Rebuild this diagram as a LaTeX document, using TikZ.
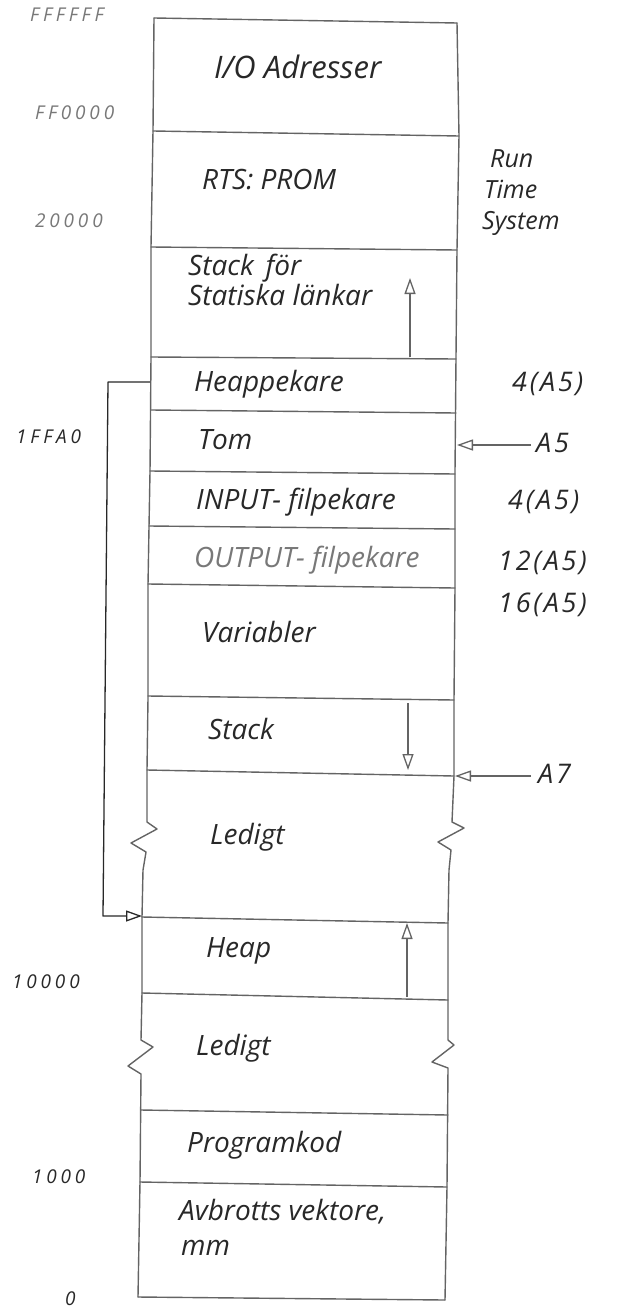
\documentclass[tikz,border=0pt]{standalone}
\usepackage{fontspec}
\setmainfont{Open Sans}
\usetikzlibrary{arrows.meta}
\definecolor{linec}{RGB}{100,100,100}
\definecolor{ink}{RGB}{40,40,40}
\definecolor{pale}{RGB}{120,120,120}
\begin{document}
\begin{tikzpicture}[x=1pt,y=-1pt,
  col/.style={draw=linec, line width=1.4pt, line join=round, line cap=round},
  txt/.style={anchor=west, inner sep=0pt, text=ink, text height=14pt, text depth=0pt,
    font=\itshape\fontsize{28}{32}\selectfont},
  rlab/.style={anchor=west, inner sep=0pt, text=ink, text height=14pt, text depth=0pt,
    font=\itshape\fontsize{27}{30}\selectfont\addfontfeature{LetterSpace=10}},
  llab/.style={anchor=west, inner sep=0pt, text=pale, text height=10pt, text depth=0pt,
    font=\itshape\fontsize{19}{21}\selectfont\addfontfeature{LetterSpace=20}},
  arr/.style={draw=linec, line width=1.3pt, -{Triangle[open,length=16pt,width=11pt]}},
  brk/.style={draw=ink, line width=1.3pt, line join=round, -{Triangle[open,length=16pt,width=11pt]}}
]
\useasboundingbox (0,0) rectangle (620,1311);

% column outline with break marks
\draw[col] (154,18) -- (153,131) -- (151,247) -- (151,357) -- (150,472) -- (149,527)
  -- (148,585) -- (148,698) -- (147,770) -- (147,822) -- (157,829) -- (131,843)
  -- (146,852) -- (143,870) -- (142,917) -- (142,993) -- (141,1040) -- (153,1047)
  -- (128,1066) -- (141,1074) -- (140,1182) -- (138,1297);
\draw[col] (457,23) -- (459,136) -- (457,250) -- (456,357) -- (455,472) -- (455,588)
  -- (454,700) -- (454,776) -- (452,822) -- (464,828) -- (438,842) -- (451,850)
  -- (449,870) -- (448,923) -- (448,1000) -- (448,1040) -- (454,1045) -- (432,1062)
  -- (448,1068) -- (447,1187) -- (445,1300);

% divisions
\draw[col] (154,18) -- (457,23);
\draw[col] (153,131) -- (459,136);
\draw[col] (151,247) -- (457,250);
\draw[col] (151,357) -- (456,359);
\draw[col] (151,410) -- (456,413);
\draw[col] (150,471) -- (455,474);
\draw[col] (149,526) -- (455,529);
\draw[col] (148,584) -- (455,588);
\draw[col] (148,696) -- (454,700);
\draw[col] (147,770) -- (454,776);
\draw[col] (142,917) -- (448,923);
\draw[col] (142,993) -- (448,1000);
\draw[col] (141,1110) -- (448,1115);
\draw[col] (140,1182) -- (447,1187);
\draw[col] (138,1297) -- (445,1300);

% cell texts
\node[txt, font=\itshape\fontsize{31}{34}\selectfont] (io) at (214,72) {I/O Adresser};
\node[txt] (rts) at (202,182) {RTS: PROM};
\node[txt] (sfor) at (188,268) {Stack \,för};
\node[txt] (stat) at (188,298) {Statiska länkar};
\node[txt] (hp) at (194,384) {Heappekare};
\node[txt] (tom) at (198,442) {Tom};
\node[txt] (inp) at (196,502) {INPUT- filpekare};
\node[txt, text=pale] (outp) at (194,560) {OUTPUT- filpekare};
\node[txt] (var) at (202,635) {Variabler};
\node[txt] (stk) at (208,732) {Stack};
\node[txt] (led1) at (210,837) {Ledigt};
\node[txt] (heap) at (206,950) {Heap};
\node[txt] (led2) at (196,1048) {Ledigt};
\node[txt] (prog) at (187,1145) {Programkod};
\node[txt] (avb) at (179,1213) {Avbrotts vektore,};
\node[txt] (mm) at (181,1248) {mm};

% right labels
\node[rlab, font=\itshape\fontsize{25}{28}\selectfont] (run) at (490,160) {Run};
\node[rlab, font=\itshape\fontsize{25}{28}\selectfont] (time) at (484,191) {Time};
\node[rlab, font=\itshape\fontsize{25}{28}\selectfont] (sys) at (482,222) {System};
\node[rlab] (o4a) at (512,384) {4(A5)};
\node[rlab] (a5) at (536,445) {A5};
\node[rlab] (o4b) at (508,502) {4(A5)};
\node[rlab] (o12) at (498,563) {12(A5)};
\node[rlab] (o16) at (498,605) {16(A5)};
\node[rlab] (a7) at (538,776) {A7};

% address labels
\node[llab] (fff) at (30,17) {FFFFFF};
\node[llab] (ff0) at (35,115) {FF0000};
\node[llab] (a20) at (35,222) {20000};
\node[llab, text=ink] (a1ffa0) at (16,438) {1FFA0};
\node[llab, text=ink] (a10000) at (12,983) {10000};
\node[llab, text=ink] (a1000) at (32,1178) {1000};
\node[llab, text=ink] (a0) at (65,1300) {0};

% growth arrows inside cells
\coordinate (sfB) at (410,357);
\coordinate (sfT) at (410,278);
\draw[arr] (sfB) -- (sfT);
\coordinate (stT) at (408,703);
\coordinate (stB) at (408,770);
\draw[arr] (stT) -- (stB);
\coordinate (hB) at (407,997);
\coordinate (hT) at (407,923);
\draw[arr] (hB) -- (hT);

% register pointers
\coordinate (a5tip) at (457,445);
\draw[arr] ([xshift=-5pt]a5.west) -- (a5tip);
\coordinate (a7tip) at (455,776);
\draw[arr] ([xshift=-7pt]a7.west) -- (a7tip);

% heap pointer bracket
\coordinate (hpL) at (150,382);
\coordinate (bk1) at (108,382);
\coordinate (bk2) at (103,916);
\coordinate (heapL) at (142,916);
\draw[brk] (hpL) -- (bk1) -- (bk2) -- (heapL);
\end{tikzpicture}
\end{document}
